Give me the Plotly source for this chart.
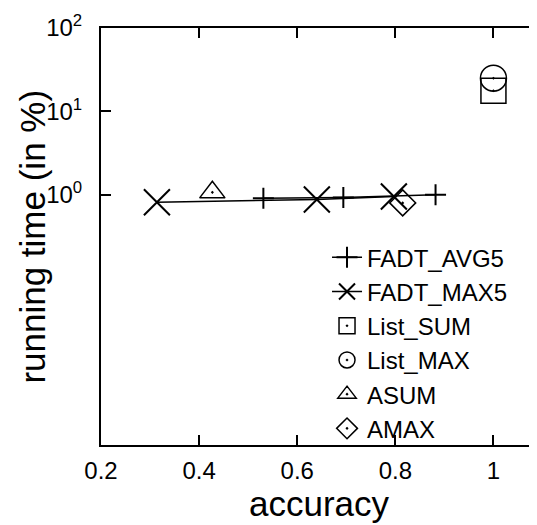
import plotly.graph_objects as go

# ---- data ----
avg5_acc = [0.531, 0.694, 0.882]
avg5_time = [0.91, 0.928, 1.0]
max5_acc = [0.314, 0.640, 0.797]
max5_time = [0.815, 0.878, 0.954]
listsum_acc = [1.0]
listsum_time = [17.7]
listmax_acc = [1.0]
listmax_time = [25.0]
asum_acc = [0.427]
asum_time = [1.07]
amax_acc = [0.815]
amax_time = [0.80]

x_tickvals = [0.2, 0.4, 0.6, 0.8, 1.0]
x_ticktext = ["0.2", "0.4", "0.6", "0.8", "1"]
y_tickvals = [1, 10, 100]
y_ticktext = ["10<sup>0</sup>", "10<sup>1</sup>", "10<sup>2</sup>"]

FONT = "Liberation Sans, Arial, Helvetica, sans-serif"
BLACK = "black"

fig = go.Figure()
fig.add_trace(go.Scatter(x=avg5_acc, y=avg5_time, name="FADT_AVG5", mode="lines+markers",
                         line=dict(color=BLACK, width=1.5),
                         marker=dict(symbol="cross-thin", size=15, line=dict(color=BLACK, width=2))))
fig.add_trace(go.Scatter(x=max5_acc, y=max5_time, name="FADT_MAX5", mode="lines+markers",
                         line=dict(color=BLACK, width=1.5),
                         marker=dict(symbol="x-thin", size=26, line=dict(color=BLACK, width=2))))
fig.add_trace(go.Scatter(x=listsum_acc, y=listsum_time, name="List_SUM", mode="markers",
                         marker=dict(symbol="square-open-dot", size=25, color=BLACK,
                                     line=dict(color=BLACK, width=1.5))))
fig.add_trace(go.Scatter(x=listmax_acc, y=listmax_time, name="List_MAX", mode="markers",
                         marker=dict(symbol="circle-open-dot", size=26, color=BLACK,
                                     line=dict(color=BLACK, width=1.5))))
fig.add_trace(go.Scatter(x=asum_acc, y=asum_time, name="ASUM", mode="markers",
                         marker=dict(symbol="triangle-up-open-dot", size=22, color=BLACK,
                                     line=dict(color=BLACK, width=1.5))))
fig.add_trace(go.Scatter(x=amax_acc, y=amax_time, name="AMAX", mode="markers",
                         marker=dict(symbol="diamond-open-dot", size=20, color=BLACK,
                                     line=dict(color=BLACK, width=1.5))))
# empty trace so the right-hand mirror tick axis is drawn
fig.add_trace(go.Scatter(x=[], y=[], yaxis="y2", showlegend=False, hoverinfo="skip"))

# the page body adds an 8px offset, so the figure is 8px smaller than the window
fig.update_layout(
    width=529, height=517,
    margin=dict(l=93, r=0, t=20, b=80, autoexpand=False),
    paper_bgcolor="white", plot_bgcolor="white",
    font=dict(family=FONT, size=24, color=BLACK),
    showlegend=True,
    legend=dict(x=0.945, xanchor="right", y=0.503, yanchor="top",
                bgcolor="rgba(0,0,0,0)", font=dict(size=24, family=FONT),
                tracegroupgap=0, itemsizing="trace"),
    xaxis=dict(range=[0.2, 1.0888], tickvals=x_tickvals, ticktext=x_ticktext,
               ticks="inside", ticklen=10, tickwidth=1.5, tickcolor=BLACK,
               showline=True, linewidth=2, linecolor=BLACK, mirror="ticks",
               showgrid=False, zeroline=False, automargin=False,
               tickfont=dict(size=24), ticklabelstandoff=3,
               title=dict(text="accuracy", font=dict(size=35), standoff=4)),
    yaxis=dict(type="log", range=[-3, 2], tickvals=y_tickvals, ticktext=y_ticktext,
               ticks="inside", ticklen=10, tickwidth=1.5, tickcolor=BLACK,
               showline=True, linewidth=2, linecolor=BLACK, mirror=False,
               showgrid=False, zeroline=False, automargin=False,
               tickfont=dict(size=24), ticklabelstandoff=12),
    yaxis2=dict(type="log", range=[-3, 2], overlaying="y", side="right",
                tickvals=[1, 10], ticks="inside", ticklen=8, tickwidth=1.5, tickcolor=BLACK,
                showticklabels=False, showline=False, showgrid=False, zeroline=False,
                automargin=False),
    annotations=[dict(text="running time (in %)", textangle=-90, showarrow=False,
                      xref="paper", yref="paper", x=-0.158, y=0.5,
                      xanchor="center", yanchor="middle", font=dict(size=35))],
)

fig.write_html("out.html")
